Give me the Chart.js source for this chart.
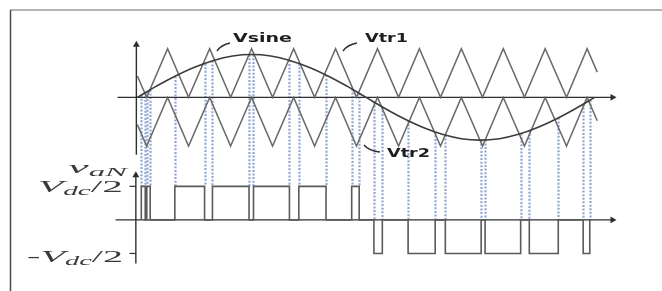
<!DOCTYPE html>
<html>
<head>
<meta charset="utf-8">
<script src="https://cdn.jsdelivr.net/npm/chart.js@4.4.1/dist/chart.umd.min.js"></script>
<style>
  html, body { margin: 0; padding: 0; background: #fff; }
  canvas { display: block; }
</style>
</head>
<body>
<canvas id="c" width="662" height="291"></canvas>
<script>
// reference sine (degrees, per-unit of carrier amplitude)
const sineDeg = [0, 15, 30, 45, 60, 75, 90, 105, 120, 135, 150, 165, 180,
                 195, 210, 225, 240, 255, 270, 285, 300, 315, 330, 345, 360];
const sineVal = [0, 0.23, 0.44, 0.62, 0.76, 0.85, 0.88, 0.85, 0.76, 0.62, 0.44, 0.23, 0,
                 -0.23, -0.44, -0.62, -0.76, -0.85, -0.88, -0.85, -0.76, -0.62, -0.44, -0.23, 0];

// carrier vertices (same x for both triangles)
const carrierDeg = [0, 7.3, 23.8, 40.3, 56.9, 73.4, 89.9, 106.4, 123, 139.5, 156, 172.5,
                    189, 205.6, 222, 238.6, 255, 271.7, 288, 304.7, 321, 337.8, 354, 362];
const vtr1 = [0.44, 0, 1, 0, 1, 0, 1, 0, 1, 0, 1, 0, 1, 0, 1, 0, 1, 0, 1, 0, 1, 0, 1, 0.52];
const vtr2 = [-0.56, -1, 0, -1, 0, -1, 0, -1, 0, -1, 0, -1, 0, -1, 0, -1, 0, -1, 0, -1, 0, -1, 0, -0.48];

// output v_aN pulses (start/end in degrees)
const posOn  = [3.1, 7.4, 29.5, 59.1, 91.4, 127.1, 168.7];
const posOff = [6.2, 10.1, 52.9, 87.9, 119.7, 148.5, 174.6];
const negOn  = [186.2, 213.1, 242.4, 273.7, 308.5, 350.9];
const negOff = [192.8, 234.4, 270.6, 301.7, 331.3, 356.1];

const pts = (xs, ys) => xs.map((x, i) => ({ x: x, y: ys[i] }));

function sineAt(d) {
  for (let i = 0; i < sineDeg.length - 1; i++) {
    if (d >= sineDeg[i] && d <= sineDeg[i + 1]) {
      const t = (d - sineDeg[i]) / (sineDeg[i + 1] - sineDeg[i]);
      return sineVal[i] + t * (sineVal[i + 1] - sineVal[i]);
    }
  }
  return 0;
}

// build the pulse train
const pulses = [];
posOn.forEach((a, i) => pulses.push([a, posOff[i], 1]));
negOn.forEach((a, i) => pulses.push([a, negOff[i], -1]));
pulses.sort((p, q) => p[0] - q[0]);
const outData = [];
pulses.forEach(p => {
  outData.push({ x: p[0], y: 0 }, { x: p[0], y: p[2] }, { x: p[1], y: p[2] }, { x: p[1], y: 0 });
});

const AX = '#2f2f2f';

function axisSet(xs, ys, yAxis, rot) {
  return {
    data: pts(xs, ys), yAxisID: yAxis, borderColor: AX, borderWidth: 1.4,
    pointStyle: 'triangle', pointRadius: [0, 4], pointRotation: [0, rot],
    pointBackgroundColor: AX, pointBorderColor: AX, pointBorderWidth: 0
  };
}

function stretchText(ctx, str, x, y, font, w) {
  ctx.font = font;
  const m = ctx.measureText(str).width;
  ctx.save();
  ctx.translate(x, y);
  ctx.scale(w / m, 1);
  ctx.fillText(str, 0, 0);
  ctx.restore();
}

function mathText(ctx, parts, x, y, w) {
  let total = 0;
  parts.forEach(p => { ctx.font = p.f; p.w = ctx.measureText(p.t).width; total += p.w; });
  ctx.save();
  ctx.translate(x, y);
  ctx.scale(w / total, 1);
  let cx = 0;
  parts.forEach(p => { ctx.font = p.f; ctx.fillText(p.t, cx, p.dy || 0); cx += p.w; });
  ctx.restore();
}

const overlay = {
  id: 'overlay',
  beforeDraw(chart) {
    const ctx = chart.ctx;
    ctx.save();
    ctx.fillStyle = '#fff';
    ctx.fillRect(0, 0, chart.width, chart.height);
    ctx.strokeStyle = '#b4b4b4';
    ctx.lineWidth = 2;
    ctx.beginPath(); ctx.moveTo(10, 10); ctx.lineTo(chart.width, 10); ctx.stroke();
    ctx.strokeStyle = '#4a4a4a';
    ctx.lineWidth = 1.5;
    ctx.beginPath(); ctx.moveTo(10.5, 10); ctx.lineTo(10.5, chart.height); ctx.stroke();
    ctx.restore();
  },
  beforeDatasetsDraw(chart) {
    const ctx = chart.ctx, x = chart.scales.x, yt = chart.scales.yTop, yb = chart.scales.yBot;
    ctx.save();
    ctx.strokeStyle = 'rgba(125,150,205,0.85)';
    ctx.lineWidth = 2.2;
    ctx.setLineDash([2, 1.6]);
    pulses.forEach(p => {
      [p[0], p[1]].forEach(d => {
        const px = Math.round(x.getPixelForValue(d)) + 0.5;
        ctx.beginPath();
        ctx.moveTo(px, yt.getPixelForValue(sineAt(d)));
        ctx.lineTo(px, yb.getPixelForValue(p[2] > 0 ? 1 : 0));
        ctx.stroke();
      });
    });
    ctx.restore();
  },
  afterDatasetsDraw(chart) {
    const ctx = chart.ctx;
    ctx.save();
    ctx.fillStyle = '#1e1e1e';
    stretchText(ctx, 'Vsine', 233, 42, 'bold 13px "DejaVu Sans"', 59);
    stretchText(ctx, 'Vtr1', 365, 42, 'bold 13px "DejaVu Sans"', 43);
    stretchText(ctx, 'Vtr2', 387, 157, 'bold 13px "DejaVu Sans"', 43);

    ctx.strokeStyle = '#333';
    ctx.lineWidth = 1.5;
    ctx.beginPath(); ctx.moveTo(217, 51); ctx.quadraticCurveTo(221, 45, 230, 43); ctx.stroke();
    ctx.beginPath(); ctx.moveTo(343, 51); ctx.quadraticCurveTo(347, 45, 357, 43); ctx.stroke();
    ctx.beginPath(); ctx.moveTo(364, 145); ctx.quadraticCurveTo(369, 151, 380, 152); ctx.stroke();

    ctx.fillStyle = '#3a3a3a';
    const serif = '"Liberation Serif"';
    mathText(ctx, [
      { t: 'v', f: 'italic 17px ' + serif },
      { t: 'aN', f: 'italic 12px ' + serif, dy: 3 }
    ], 68, 173, 59);
    mathText(ctx, [
      { t: 'V', f: 'italic 17px ' + serif },
      { t: 'dc', f: 'italic 12px ' + serif, dy: 3 },
      { t: '/2', f: '17px ' + serif }
    ], 38, 192, 85);
    mathText(ctx, [
      { t: '-', f: '17px ' + serif },
      { t: 'V', f: 'italic 17px ' + serif },
      { t: 'dc', f: 'italic 12px ' + serif, dy: 3 },
      { t: '/2', f: '17px ' + serif }
    ], 27, 262, 96);
    ctx.restore();
  }
};

new Chart(document.getElementById('c'), {
  type: 'line',
  data: {
    datasets: [
      { data: pts(sineDeg, sineVal), yAxisID: 'yTop', borderColor: '#3c3c3c', borderWidth: 1.6, tension: 0.4 },
      { data: pts(carrierDeg, vtr1), yAxisID: 'yTop', borderColor: '#6a6a6a', borderWidth: 1.5 },
      { data: pts(carrierDeg, vtr2), yAxisID: 'yTop', borderColor: '#6a6a6a', borderWidth: 1.5 },
      { data: outData, yAxisID: 'yBot', borderColor: '#5a5a5a', borderWidth: 1.6 },
      axisSet([-15.6, 374], [0, 0], 'yTop', 90),
      axisSet([-0.8, -0.8], [-1.18, 1.08], 'yTop', 0),
      axisSet([-17.1, 374], [0, 0], 'yBot', 90),
      axisSet([-1.2, -1.2], [-1.3, 1.33], 'yBot', 0),
      { data: pts([-6.2, -1.2], [1, 1]), yAxisID: 'yBot', borderColor: AX, borderWidth: 1.2 },
      { data: pts([-6.2, -1.2], [-1, -1]), yAxisID: 'yBot', borderColor: AX, borderWidth: 1.2 }
    ]
  },
  options: {
    responsive: false,
    animation: false,
    events: [],
    layout: { padding: 0 },
    elements: { point: { radius: 0 } },
    plugins: { legend: { display: false }, tooltip: { enabled: false } },
    scales: {
      x: { type: 'linear', display: false, min: -104.98, max: 409.8 },
      yTop: { type: 'linear', display: false, min: -3.9, max: 1.92 },
      yBot: { type: 'linear', display: false, min: -2.0, max: 6.435 }
    }
  },
  plugins: [overlay]
});
</script>
</body>
</html>
